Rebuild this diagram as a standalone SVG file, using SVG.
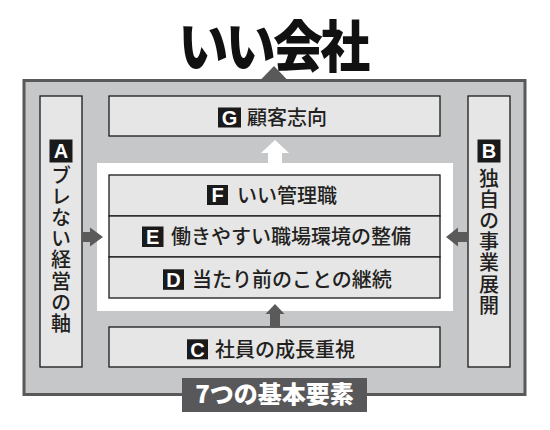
<svg xmlns="http://www.w3.org/2000/svg" width="550" height="430" viewBox="0 0 550 430">
<style>
.jp{font-family:"Noto Sans CJK JP","Noto Sans CJK SC",sans-serif;}
.lbl{font-size:20px;font-weight:500;fill:#231f20;}
.box{fill:#e6e6e7;stroke:#1a1a1a;stroke-width:1.3;}
.badge{fill:#1a1a1a;}
.bl{font-family:"Liberation Sans",Arial,sans-serif;font-weight:bold;font-size:20px;fill:#fff;text-anchor:middle;}
.arr{fill:#5a5a5a;}
.vert{writing-mode:vertical-rl;font-size:20px;font-weight:500;fill:#231f20;letter-spacing:1.2px;}
</style>
<rect width="550" height="430" fill="#fff"/>
<g id="node-title">
<text class="jp" transform="translate(273 0) scale(1 1.12)" x="0" y="60" text-anchor="middle" font-size="50" font-weight="900" fill="#111" letter-spacing="-2.7">いい会社</text>
</g>
<g id="node-frame">
<rect x="24" y="80.5" width="501" height="314" fill="#c6c7c9" stroke="#595959" stroke-width="3"/>
<polygon points="261,79.5 274,66 287,79.5" fill="#595959"/>
<rect x="97" y="163" width="356" height="148" fill="#fff"/>
</g>
<g id="node-A">
<rect class="box" x="40" y="96" width="42" height="271"/>
<rect class="badge" x="49.5" y="139.5" width="23" height="23"/>
<text class="bl" x="61" y="158.2">A</text>
<text class="jp vert" x="61" y="165">ブレない経営の軸</text>
</g>
<g id="node-B">
<rect class="box" x="468" y="96" width="42" height="271"/>
<rect class="badge" x="477.5" y="139.5" width="23" height="23"/>
<text class="bl" x="489" y="158.2">B</text>
<text class="jp vert" x="489" y="168">独自の事業展開</text>
</g>
<g id="node-G">
<rect class="box" x="109" y="96" width="331" height="40"/>
<rect class="badge" x="218" y="107.5" width="23" height="20"/>
<text class="bl" x="229.5" y="124.7">G</text>
<text class="jp lbl" x="247" y="125">顧客志向</text>
</g>
<g id="node-F">
<rect class="box" x="109" y="175" width="331" height="41"/>
<rect class="badge" x="207" y="185" width="21" height="20"/>
<text class="bl" x="217.5" y="202.2">F</text>
<text class="jp lbl" x="237" y="202.5">いい管理職</text>
</g>
<g id="node-E">
<rect class="box" x="109" y="216" width="331" height="41"/>
<rect class="badge" x="142" y="226.5" width="21.5" height="20.5"/>
<text class="bl" x="152.75" y="243.9">E</text>
<text class="jp lbl" x="171" y="244">働きやすい職場環境の整備</text>
</g>
<g id="node-D">
<rect class="box" x="109" y="257" width="331" height="41"/>
<rect class="badge" x="163" y="269.3" width="21" height="20.5"/>
<text class="bl" x="173.5" y="286.7">D</text>
<text class="jp lbl" x="192" y="287">当たり前のことの継続</text>
</g>
<g id="node-C">
<rect class="box" x="109" y="327" width="331" height="40"/>
<rect class="badge" x="187" y="339.3" width="21" height="20"/>
<text class="bl" x="197.5" y="356.5">C</text>
<text class="jp lbl" x="215" y="356.5">社員の成長重視</text>
</g>
<g id="node-label">
<rect x="182" y="378" width="185" height="34" fill="#58585a"/>
<text class="jp" x="274.5" y="403" text-anchor="middle" font-size="24" font-weight="900" fill="#fff">7つの基本要素</text>
</g>
<g id="connectors">
<polygon class="arr" points="82,232 90,232 90,227.5 103,237 90,246.5 90,242 82,242"/>
<polygon class="arr" points="468,232 458,232 458,227.5 446,237 458,246.5 458,242 468,242"/>
<polygon class="arr" points="270,327 270,314 265.5,314 275,304 284.5,314 280,314 280,327"/>
<polygon fill="#fff" points="268,163.5 268,153 261,153 275,140 289,153 282,153 282,163.5"/>
</g>
</svg>
